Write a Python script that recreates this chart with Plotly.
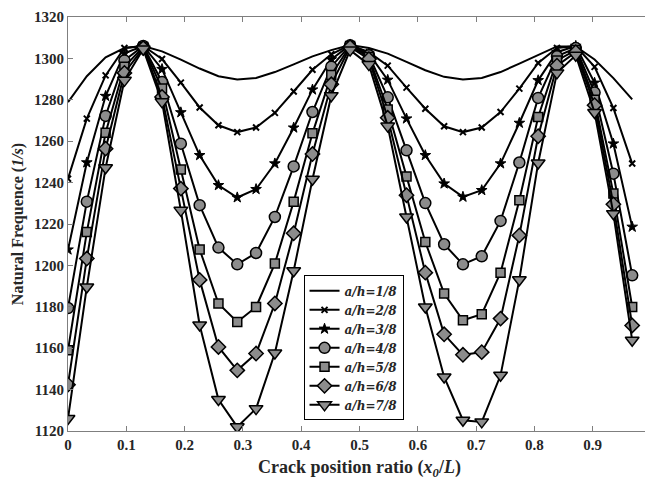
import plotly.graph_objects as go

n_points = 31
x_ratio = [i / 31 for i in range(n_points)]

f_1_8 = [1278.9, 1291.4, 1300.5, 1305.0, 1306.0, 1303.4, 1299.4, 1295.1, 1291.4, 1289.8,
         1290.5, 1293.4, 1297.1, 1301.0, 1304.0, 1306.5, 1305.0, 1302.3, 1298.3, 1294.3,
         1291.1, 1289.8, 1290.5, 1293.4, 1297.5, 1301.5, 1305.8, 1305.8, 1299.5, 1290.5, 1280.2]
f_2_8 = [1241.9, 1270.9, 1291.8, 1305.0, 1306.0, 1299.7, 1288.3, 1276.3, 1267.7, 1264.4,
         1266.6, 1273.7, 1284.0, 1294.5, 1302.0, 1306.5, 1303.0, 1296.5, 1285.9, 1275.7,
         1267.2, 1264.4, 1266.6, 1274.1, 1285.4, 1297.8, 1305.0, 1306.0, 1295.9, 1276.0, 1249.2]
f_3_8 = [1207.6, 1249.7, 1281.8, 1302.5, 1306.0, 1294.8, 1273.9, 1253.2, 1238.7, 1232.8,
         1236.8, 1249.2, 1266.5, 1284.9, 1299.5, 1306.5, 1302.3, 1289.6, 1270.9, 1253.2,
         1239.5, 1233.1, 1236.3, 1249.2, 1268.8, 1289.4, 1303.0, 1306.0, 1288.2, 1258.8, 1218.6]
f_4_8 = [1179.4, 1230.8, 1272.2, 1299.0, 1306.0, 1288.6, 1258.8, 1229.1, 1208.6, 1200.5,
         1206.0, 1223.4, 1247.8, 1274.1, 1296.0, 1306.3, 1301.5, 1281.2, 1255.6, 1230.1,
         1210.2, 1200.5, 1204.4, 1221.5, 1249.7, 1280.9, 1301.0, 1305.0, 1283.5, 1244.3, 1195.2]
f_5_8 = [1159.0, 1216.1, 1264.1, 1296.0, 1305.5, 1285.4, 1246.3, 1207.7, 1181.6, 1172.7,
         1179.9, 1200.9, 1230.8, 1263.8, 1292.0, 1306.0, 1300.7, 1275.3, 1243.0, 1211.3,
         1186.4, 1173.5, 1176.4, 1196.5, 1231.5, 1271.7, 1299.0, 1304.0, 1280.0, 1234.7, 1179.9]
f_6_8 = [1142.4, 1203.3, 1256.4, 1293.0, 1305.0, 1281.4, 1237.1, 1193.0, 1160.6, 1149.3,
         1157.4, 1181.6, 1215.5, 1253.8, 1287.5, 1305.5, 1299.6, 1271.3, 1233.9, 1196.5,
         1166.7, 1156.8, 1158.1, 1174.3, 1214.5, 1262.4, 1296.5, 1303.0, 1277.4, 1229.5, 1171.0]
f_7_8 = [1126.0, 1189.6, 1247.2, 1289.4, 1304.5, 1279.0, 1226.6, 1171.2, 1135.2, 1122.0,
         1130.8, 1157.7, 1197.4, 1241.6, 1282.0, 1304.0, 1297.0, 1267.3, 1223.4, 1179.9,
         1146.1, 1125.2, 1124.4, 1146.9, 1193.1, 1249.5, 1293.0, 1301.5, 1273.9, 1225.0, 1163.8]

series_names = ["a/h=1/8", "a/h=2/8", "a/h=3/8", "a/h=4/8", "a/h=5/8", "a/h=6/8", "a/h=7/8"]
series_values = [f_1_8, f_2_8, f_3_8, f_4_8, f_5_8, f_6_8, f_7_8]

x_tick_vals = [0, 0.1, 0.2, 0.3, 0.4, 0.5, 0.6, 0.7, 0.8, 0.9, 1.0]
x_tick_text = ["0", "0.1", "0.2", "0.3", "0.4", "0.5", "0.6", "0.7", "0.8", "0.9", "1"]
y_tick_vals = [1120, 1140, 1160, 1180, 1200, 1220, 1240, 1260, 1280, 1300, 1320]

grey = "#8c8c8c"
styles = [
    dict(mode="lines", marker=None),
    dict(mode="lines+markers", marker=dict(symbol="x-thin", size=6, color="black",
                                           line=dict(color="black", width=2))),
    dict(mode="lines+markers", marker=dict(symbol="star", size=8, color="black",
                                           line=dict(color="black", width=1))),
    dict(mode="lines+markers", marker=dict(symbol="circle", size=11, color=grey,
                                           line=dict(color="black", width=1.5))),
    dict(mode="lines+markers", marker=dict(symbol="square", size=9, color=grey,
                                           line=dict(color="black", width=1.5))),
    dict(mode="lines+markers", marker=dict(symbol="diamond", size=11, color=grey,
                                           line=dict(color="black", width=1.5))),
    dict(mode="lines+markers", marker=dict(symbol="triangle-down", size=12, color=grey,
                                           line=dict(color="black", width=1.5))),
]

fig = go.Figure()
for name, vals, st in zip(series_names, series_values, styles):
    kw = dict(x=x_ratio, y=vals, mode=st["mode"], name="<i>" + name + "</i>",
              line=dict(color="black", width=2))
    if st["marker"] is not None:
        kw["marker"] = st["marker"]
    fig.add_trace(go.Scatter(**kw))

font_family = "Liberation Serif"
text_color = "#262626"
axis_common = dict(
    showline=True, linecolor="#7f7f7f", linewidth=1, mirror="ticks",
    ticks="inside", ticklen=5, tickcolor="#7f7f7f", tickwidth=1,
    showgrid=False, zeroline=False, automargin=False, ticklabeloverflow="allow",
    tickfont=dict(family=font_family, size=15, color=text_color, weight="bold"),
)

# page body has an 8px default margin; figure sized to fill the remaining window
fig.update_layout(
    width=645, height=474,
    margin=dict(l=60, r=2, t=9, b=51),
    paper_bgcolor="white", plot_bgcolor="white",
    font=dict(family=font_family, color=text_color),
    xaxis=dict(range=[0, 1], tickvals=x_tick_vals, ticktext=x_tick_text,
               title=dict(text="Crack position ratio (<i>x</i><sub><i>0</i></sub>/<i>L</i>)",
                          font=dict(family=font_family, size=18, color=text_color, weight="bold"),
                          standoff=8),
               **axis_common),
    yaxis=dict(range=[1120, 1320], tickvals=y_tick_vals,
               title=dict(text="Natural Frequence (<i>1/s</i>)",
                          font=dict(family=font_family, size=16, color=text_color, weight="bold"),
                          standoff=6),
               **axis_common),
    legend=dict(x=0.404, y=0.376, xanchor="left", yanchor="top",
                bgcolor="white", bordercolor="black", borderwidth=1,
                font=dict(family="DejaVu Serif", size=12, color=text_color, weight="bold"),
                tracegroupgap=0, itemwidth=30),
    showlegend=True,
)

fig.write_html("out.html")
